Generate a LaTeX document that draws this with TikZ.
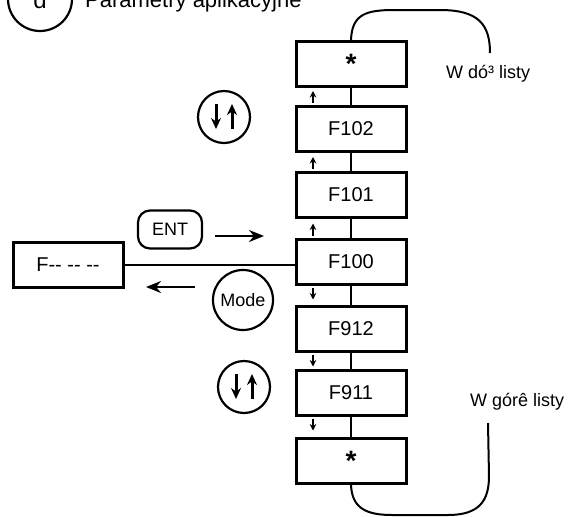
\documentclass[tikz,border=0pt]{standalone}
\usepackage{fontspec}
\setmainfont{Liberation Sans}
\usetikzlibrary{arrows.meta,calc}
\begin{document}
\begin{tikzpicture}[x=1pt,y=-1pt,
  every node/.style={font=\fontsize{18}{20}\selectfont},
  fbox/.style={draw,line width=3pt,minimum width=110pt,minimum height=45pt,inner sep=0pt,font=\fontsize{20}{22}\selectfont},
  conn/.style={line width=2pt},
  curv/.style={line width=2pt},
  sarr/.style={line width=1.7pt,-{Stealth[length=6.5pt,width=6.5pt]}},
  barr/.style={line width=2.4pt,-{Stealth[length=15pt,width=12pt]}},
  udarr/.style={line width=3pt,-{Stealth[length=11pt,width=10pt]}},
  keyc/.style={draw,circle,line width=2.2pt,inner sep=0pt},
]
\useasboundingbox (0,0) rectangle (568,517);
% title
\node[keyc,minimum size=64pt] (dcirc) at (40,-1) {};
\node[font=\fontsize{24}{26}\selectfont,anchor=base] (dlet) at (40,8) {d};
\node[anchor=base west,inner sep=0pt,font=\fontsize{22}{24}\selectfont] (title) at (85,7) {Parametry aplikacyjne};
% boxes
\node[fbox] (s1) at (351,64) {\raisebox{-0.35em}{\fontsize{28}{28}\selectfont\bfseries *}};
\node[fbox] (f102) at (351,129) {F102};
\node[fbox] (f101) at (351,195) {F101};
\node[fbox] (f100) at (351,261.5) {F100};
\node[fbox] (f912) at (351,328.5) {F912};
\node[fbox] (f911) at (351,392.5) {F911};
\node[fbox] (s2) at (351,461) {\raisebox{-0.35em}{\fontsize{28}{28}\selectfont\bfseries *}};
\node[fbox] (fl) at (68,264.5) {F-{}- -{}- -{}-};
% connections
\draw[conn] (s1.south) -- (f102.north);
\draw[conn] (f102.south) -- (f101.north);
\draw[conn] (f101.south) -- (f100.north);
\draw[conn] (f100.south) -- (f912.north);
\draw[conn] (f912.south) -- (f911.north);
\draw[conn] (f911.south) -- (s2.north);
\draw[conn] (fl.east) -- (fl.east -| f100.west);
% small arrows
\draw[sarr] ([shift={(-38,-2)}]f102.north) -- ++(0,-12);
\draw[sarr] ([shift={(-38,-2)}]f101.north) -- ++(0,-12);
\draw[sarr] ([shift={(-38,-2)}]f100.north) -- ++(0,-12);
\draw[sarr] ([shift={(-38,2)}]f100.south) -- ++(0,12);
\draw[sarr] ([shift={(-38,2)}]f912.south) -- ++(0,12);
\draw[sarr] ([shift={(-38,2)}]f911.south) -- ++(0,12);
% loops
\coordinate (topend) at (490,53);
\draw[curv] (s1.north) .. controls (352,14) and (366,10) .. (395,10) -- (440,10) .. controls (478,10) and (490,24) .. (topend);
\coordinate (botend) at (488,423);
\draw[curv] (s2.south) .. controls (352,508) and (366,515) .. (392,515) -- (448,515) .. controls (480,515) and (489,500) .. (489,476) -- (botend);
\node[anchor=west,inner sep=0pt] (wdol) at (446,74) {W dó³ listy};
\node[anchor=west,inner sep=0pt] (wgore) at (470,402) {W górê listy};
% keys
\node[keyc,minimum size=52pt] (ud1) at (224,117) {};
\draw[udarr] ([xshift=-8]ud1.center) ++(0,-13) -- ++(0,25);
\draw[udarr] ([xshift=8]ud1.center) ++(0,12) -- ++(0,-25);
\node[keyc,minimum size=52pt] (ud2) at (244,387) {};
\draw[udarr] ([xshift=-8]ud2.center) ++(0,-13) -- ++(0,25);
\draw[udarr] ([xshift=8]ud2.center) ++(0,12) -- ++(0,-25);
\node[draw,line width=2.2pt,rounded corners=12pt,minimum width=64pt,minimum height=38pt] (ent) at (170,229.5) {ENT};
\node[keyc,minimum size=60pt] (mode) at (243,300) {Mode};
\coordinate (ea) at (215,236);
\coordinate (eb) at (264,236);
\draw[barr] (ea) -- (eb);
\coordinate (ma) at (195,287);
\coordinate (mb) at (146,287);
\draw[barr] (ma) -- (mb);
\end{tikzpicture}
\end{document}
